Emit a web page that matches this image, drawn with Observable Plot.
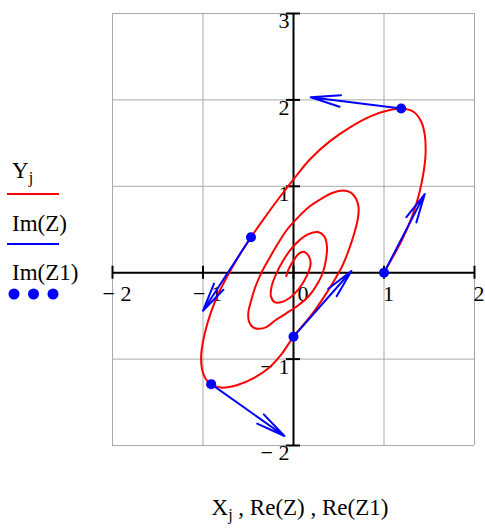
<!DOCTYPE html>
<html>
<head>
<meta charset="utf-8">
<script src="https://cdn.jsdelivr.net/npm/d3@7"></script>
<script src="https://cdn.jsdelivr.net/npm/@observablehq/plot@0.6"></script>
<style>
  body { margin: 0; background: #fff; }
  #wrap { position: relative; width: 485px; height: 531px; font-family: "Liberation Serif", "Times New Roman", serif; }
  #wrap > svg { position: absolute; left: 0; top: 0; }
  #overlay { pointer-events: none; }
</style>
</head>
<body>
<div id="wrap"></div>
<script>
// Trajectory Y_j versus X_j (damped spiral, counter-clockwise from (1, 0))
const spiralX = [
  1.00, 1.08, 1.20, 1.31, 1.39, 1.44, 1.46, 1.45, 1.41, 1.33, 1.19,
  1.05, 0.85, 0.62, 0.40, 0.18, 0.00, -0.17, -0.33, -0.47, -0.60, -0.71, -0.82, -0.91, -0.98, -1.02, -1.01, -0.97, -0.91,
  -0.80, -0.62, -0.44, -0.27, -0.13, 0.00,
  0.12, 0.24, 0.35, 0.45, 0.54, 0.61, 0.67, 0.71, 0.72, 0.69, 0.63, 0.54, 0.42, 0.30, 0.17, 0.05, -0.07, -0.17, -0.26, -0.35, -0.42, -0.47, -0.50, -0.49, -0.45, -0.38, -0.30,
  -0.20, -0.08, 0.05, 0.17, 0.27, 0.33, 0.36, 0.37, 0.34, 0.27, 0.17, 0.07, -0.03, -0.12, -0.19, -0.24, -0.25, -0.21, -0.13,
  -0.04, 0.05, 0.12, 0.17, 0.19, 0.17, 0.12, 0.06, 0.00, -0.05, -0.08
];
const spiralY = [
  0.00, 0.15, 0.38, 0.65, 0.92, 1.18, 1.40, 1.60, 1.75, 1.86, 1.90,
  1.88, 1.81, 1.68, 1.52, 1.31, 1.08, 0.85, 0.62, 0.41, 0.20, 0.00, -0.22, -0.45, -0.70, -0.95, -1.12, -1.23, -1.29,
  -1.33, -1.30, -1.22, -1.10, -0.94, -0.74,
  -0.59, -0.43, -0.26, -0.09, 0.08, 0.26, 0.45, 0.62, 0.75, 0.86, 0.93, 0.95, 0.92, 0.85, 0.76, 0.64, 0.50, 0.34, 0.18, 0.01, -0.16, -0.33, -0.47, -0.57, -0.63, -0.65, -0.63,
  -0.55, -0.47, -0.38, -0.27, -0.12, 0.02, 0.16, 0.30, 0.42, 0.47, 0.45, 0.38, 0.27, 0.13, -0.01, -0.15, -0.27, -0.34, -0.34,
  -0.29, -0.20, -0.09, 0.02, 0.11, 0.19, 0.24, 0.22, 0.14, 0.05, -0.04
];

// Sample points Z1 on the trajectory, and the velocity vectors Z drawn from them
const pointX = [1.00, 1.19, -0.47, -0.91, 0.00];
const pointY = [0.00, 1.90, 0.41, -1.29, -0.74];
const tipX = [1.45, 0.19, -1.00, -0.10, 0.64];
const tipY = [0.91, 2.03, -0.44, -1.89, 0.02];

// Axis ticks and their labels
const xTicks = [-2, -1, 0, 1, 2];
const xTickLabels = ["\u2212 2", "\u2212 1", "0", "1", "2"];
const yTicks = [-2, -1, 1, 2, 3];
const yTickLabels = ["\u2212 2", "\u2212 1", "1", "2", "3"];
const gridXValues = [-2, -1, 0, 1, 2];
const gridYValues = [-2, -1, 0, 1, 2, 3];

const spiral = spiralX.map((x, i) => ({x, y: spiralY[i]}));
const points = pointX.map((x, i) => ({x, y: pointY[i], x2: tipX[i], y2: tipY[i]}));
const xLab = xTicks.map((v, i) => ({v, label: xTickLabels[i]}));
const yLab = yTicks.map((v, i) => ({v, label: yTickLabels[i]}));

const gridColor = "#a9a9a9";

const chart = Plot.plot({
  width: 485,
  height: 460,
  marginLeft: 112,
  marginRight: 11,
  marginTop: 13,
  marginBottom: 15,
  x: {domain: [-2, 2], axis: null},
  y: {domain: [-2, 3], axis: null},
  style: {fontFamily: "'Liberation Serif', 'Times New Roman', serif", fontSize: "22px", background: "transparent", overflow: "visible"},
  marks: [
    Plot.ruleX(gridXValues, {stroke: gridColor, strokeWidth: 1}),
    Plot.ruleY(gridYValues, {stroke: gridColor, strokeWidth: 1}),
    Plot.ruleY([0], {stroke: "black", strokeWidth: 2}),
    Plot.ruleX([0], {stroke: "black", strokeWidth: 2}),
    // tick marks crossing the axes
    Plot.ruleX(xTicks, {x: d => d, y1: 0, y2: 0, insetTop: -6.5, insetBottom: -6.5, stroke: "black", strokeWidth: 2}),
    Plot.ruleY(yTicks, {y: d => d, x1: 0, x2: 0, insetLeft: -7, insetRight: -7, stroke: "black", strokeWidth: 2}),
    // tick labels
    Plot.text(xLab.filter(d => d.v < 0), {x: "v", y: 0, text: "label", textAnchor: "start", lineAnchor: "top", dx: -10, dy: 13, fill: "black"}),
    Plot.text(xLab.filter(d => d.v === 0), {x: "v", y: 0, text: "label", textAnchor: "start", lineAnchor: "top", dx: 4, dy: 13, fill: "black"}),
    Plot.text(xLab.filter(d => d.v > 0), {x: "v", y: 0, text: "label", textAnchor: "start", lineAnchor: "top", dx: -1, dy: 13, fill: "black"}),
    Plot.text(yLab, {x: 0, y: "v", text: "label", textAnchor: "end", lineAnchor: "top", dx: -4, dy: -1, fill: "black"}),
    // trajectory
    Plot.line(spiral, {x: "x", y: "y", stroke: "#ff0000", strokeWidth: 2, curve: "catmull-rom"}),
    // velocity vectors
    Plot.arrow(points, {x1: "x", y1: "y", x2: "x2", y2: "y2", stroke: "#0000ff", strokeWidth: 2, headAngle: 22, headLength: 40}),
    // sample points
    Plot.dot(points, {x: "x", y: "y", r: 5, fill: "#0000ff"})
  ]
});

const wrap = document.getElementById("wrap");
wrap.appendChild(chart);

// Legend and x-axis title
const ns = "http://www.w3.org/2000/svg";
const overlay = document.createElementNS(ns, "svg");
overlay.setAttribute("id", "overlay");
overlay.setAttribute("width", 485);
overlay.setAttribute("height", 531);
overlay.innerHTML = `
  <g font-family="'Liberation Serif', 'Times New Roman', serif" font-size="23" fill="black">
    <text x="12" y="178">Y<tspan dy="5" font-size="16">j</tspan></text>
    <line x1="7" x2="59" y1="194" y2="194" stroke="#ff0000" stroke-width="2"/>
    <text x="12" y="231">Im(Z)</text>
    <line x1="7" x2="59" y1="244" y2="244" stroke="#0000ff" stroke-width="2"/>
    <text x="12" y="280">Im(Z1)</text>
    <circle cx="14" cy="294" r="5.5" fill="#0000ff"/>
    <circle cx="33.5" cy="294" r="5.5" fill="#0000ff"/>
    <circle cx="53" cy="294" r="5.5" fill="#0000ff"/>
    <text x="300" y="515" text-anchor="middle" font-size="23">X<tspan dy="5" font-size="16">j</tspan><tspan dy="-5"> , Re(Z) , Re(Z1)</tspan></text>
  </g>`;
wrap.appendChild(overlay);
</script>
</body>
</html>
